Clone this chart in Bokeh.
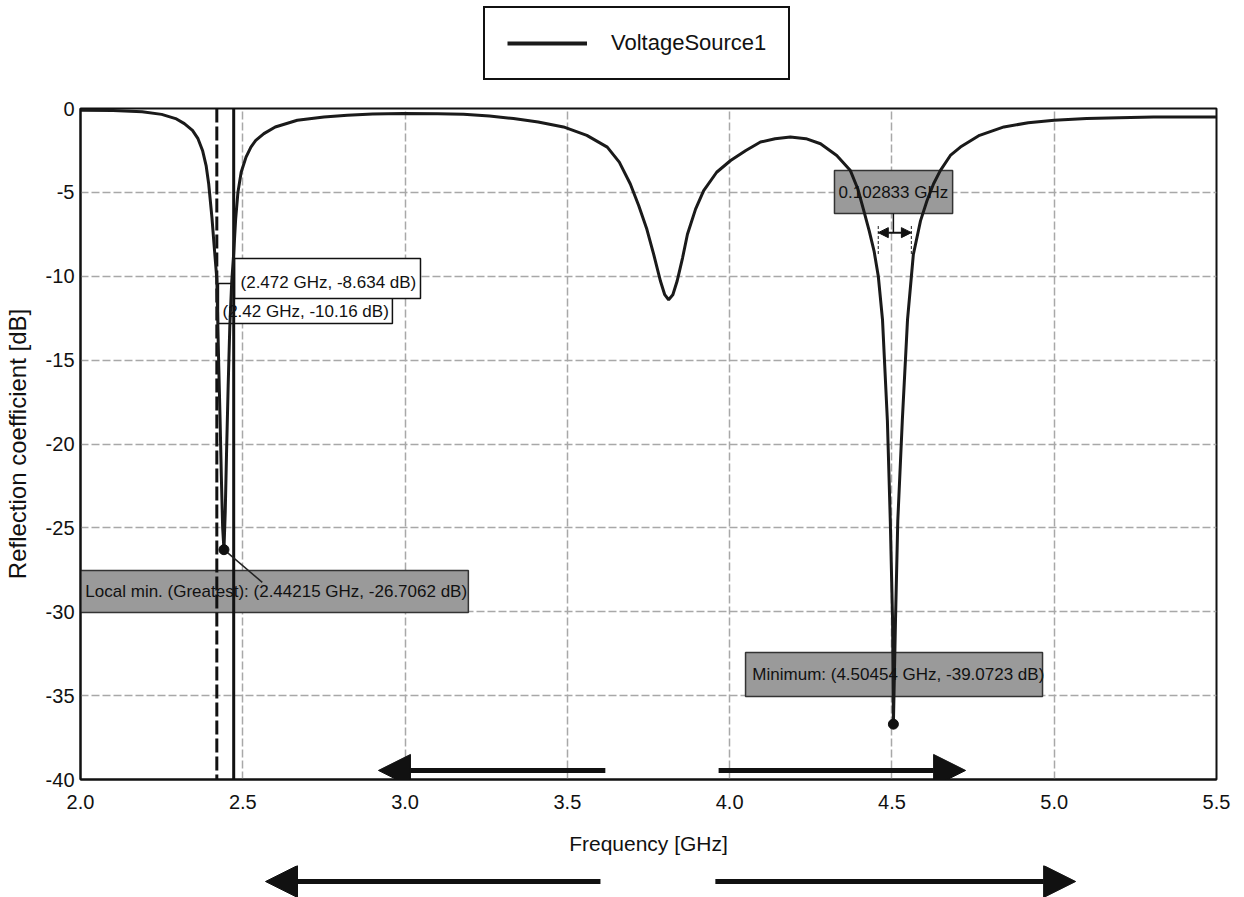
from bokeh.plotting import figure
from bokeh.layouts import column
from bokeh.models import (Arrow, NormalHead, Range1d, FixedTicker, ColumnDataSource,
                          Legend, LegendItem)
from bokeh.core.properties import value
from bokeh.embed import file_html
from bokeh.resources import INLINE

# ---------------- data ----------------
freq = [2.00, 2.10, 2.19, 2.25, 2.293, 2.32, 2.345, 2.362, 2.376, 2.387, 2.395, 2.405,
        2.411, 2.420, 2.426, 2.430, 2.434, 2.438, 2.442, 2.446, 2.450, 2.455, 2.460,
        2.466, 2.472, 2.478, 2.485, 2.495, 2.51, 2.525, 2.54, 2.565, 2.60, 2.668, 2.75,
        2.822, 2.90, 2.995, 3.10, 3.18, 3.26, 3.334, 3.41, 3.488, 3.56, 3.623, 3.66,
        3.694, 3.72, 3.745, 3.766, 3.787, 3.800, 3.812, 3.825, 3.838, 3.855, 3.87,
        3.895, 3.92, 3.96, 4.003, 4.05, 4.095, 4.14, 4.187, 4.235, 4.28, 4.33, 4.372,
        4.395, 4.412, 4.43, 4.445, 4.458, 4.471, 4.486, 4.495, 4.502, 4.5045, 4.511,
        4.518, 4.532, 4.548, 4.560, 4.566, 4.588, 4.608, 4.628, 4.649, 4.68, 4.711,
        4.77, 4.845, 4.92, 5.0, 5.1, 5.2, 5.306, 5.4, 5.5]
s11 = [-0.10, -0.12, -0.20, -0.35, -0.6, -0.9, -1.3, -1.8, -2.5, -3.4, -4.5, -6.5,
       -8.0, -10.16, -15.4, -18.5, -22.0, -25.0, -26.3, -24.0, -20.5, -16.5, -13.0,
       -10.3, -8.634, -6.6, -5.0, -3.8, -2.9, -2.3, -1.9, -1.5, -1.1, -0.7, -0.5,
       -0.4, -0.33, -0.3, -0.32, -0.35, -0.45, -0.6, -0.8, -1.1, -1.6, -2.3, -3.2,
       -4.5, -5.8, -7.2, -8.7, -10.3, -11.1, -11.4, -11.1, -10.3, -8.9, -7.5,
       -6.0, -4.9, -3.8, -3.1, -2.5, -2.0, -1.8, -1.7, -1.8, -2.1, -2.8, -3.7,
       -4.8, -6.0, -7.3, -8.5, -10.0, -12.6, -18.6, -24.6, -30.5, -36.7, -30.5,
       -24.6, -18.6, -12.6, -10.0, -8.7, -6.7, -5.5, -4.5, -3.7, -2.8, -2.3,
       -1.6, -1.1, -0.85, -0.7, -0.6, -0.55, -0.5, -0.5, -0.5]

series_name = "VoltageSource1"
x_ticks = [2.0, 2.5, 3.0, 3.5, 4.0, 4.5, 5.0, 5.5]
x_tick_labels = ["2.0", "2.5", "3.0", "3.5", "4.0", "4.5", "5.0", "5.5"]
y_ticks = [0, -5, -10, -15, -20, -25, -30, -35, -40]
y_tick_labels = ["0", "-5", "-10", "-15", "-20", "-25", "-30", "-35", "-40"]

marker_freqs = [2.42, 2.472]
marker_texts = ["(2.42 GHz, -10.16 dB)", "(2.472 GHz, -8.634 dB)"]
local_min = (2.442, -26.3)
local_min_text = "Local min. (Greatest): (2.44215 GHz, -26.7062 dB)"
global_min = (4.5045, -36.7)
global_min_text = "Minimum: (4.50454 GHz, -39.0723 dB)"
bw_edges = [4.458, 4.560]
bw_text = "0.102833 GHz"

FONT = "'Liberation Sans', Arial, sans-serif"
GRAY = "#9a9a9a"
INK = "#111111"

# ---------------- legend strip (top) ----------------
lf = figure(width=1244, height=96, x_range=Range1d(0, 1), y_range=Range1d(0, 1),
            output_backend="svg", toolbar_location=None,
            min_border_left=80, min_border_right=28, min_border_top=0, min_border_bottom=0)
lf.axis.visible = False
lf.grid.visible = False
lf.outline_line_color = None
# legend proxy: the same series, lying outside this strip's (hidden) ranges
proxy = lf.line(x=freq, y=s11, line_color="#1a1a1a", line_width=4)
lg = Legend(items=[LegendItem(label=series_name, renderers=[proxy])], location=(403, 16))
lg.border_line_color = INK
lg.border_line_alpha = 1.0
lg.border_line_width = 2
lg.padding = 22
lg.margin = 0
lg.glyph_width = 80
lg.glyph_height = 26
lg.label_height = 26
lg.label_standoff = 24
lg.label_text_font = FONT
lg.label_text_font_size = "22px"
lg.label_text_color = INK
lf.add_layout(lg)

# ---------------- main figure ----------------
p = figure(width=1244, height=769, x_range=Range1d(2.0, 5.5), y_range=Range1d(-40, 0),
           output_backend="svg", toolbar_location=None,
           min_border_left=80, min_border_right=28, min_border_top=12, min_border_bottom=86)
p.background_fill_color = "white"
p.border_fill_color = "white"
p.outline_line_color = INK
p.outline_line_width = 2

p.xaxis.ticker = FixedTicker(ticks=x_ticks)
p.yaxis.ticker = FixedTicker(ticks=y_ticks)
p.xaxis.major_label_overrides = {t: l for t, l in zip(x_ticks, x_tick_labels)}
p.yaxis.major_label_overrides = {t: l for t, l in zip(y_ticks, y_tick_labels)}
for ax in (p.xaxis[0], p.yaxis[0]):
    ax.axis_line_color = INK
    ax.axis_line_width = 2
    ax.major_tick_line_color = None
    ax.minor_tick_line_color = None
    ax.major_tick_out = 0
    ax.major_tick_in = 0
    ax.minor_tick_out = 0
    ax.major_label_text_font = FONT
    ax.major_label_text_font_size = "20px"
    ax.major_label_text_color = INK
    ax.axis_label_text_font = FONT
    ax.axis_label_text_font_style = "normal"
    ax.axis_label_text_color = INK
p.xaxis.axis_label = "Frequency [GHz]"
p.xaxis.axis_label_text_font_size = "21px"
p.xaxis.major_label_standoff = 15
p.xaxis.axis_label_standoff = 20
p.yaxis.axis_label = "Reflection coefficient [dB]"
p.yaxis.axis_label_text_font_size = "24px"
p.yaxis.major_label_standoff = 6
p.yaxis.axis_label_standoff = 12

for g in (p.xgrid[0], p.ygrid[0]):
    g.grid_line_color = "#a8a8a8"
    g.grid_line_dash = "8 3"
    g.grid_line_width = 1.5
p.xgrid.ticker = FixedTicker(ticks=x_ticks)
p.ygrid.ticker = FixedTicker(ticks=y_ticks)

# annotation boxes (under the lines)
p.quad(left=[2.0], right=[3.195], top=[-27.54], bottom=[-30.05],
       fill_color=GRAY, line_color="#333333", line_width=1.5)
p.quad(left=[4.049], right=[4.964], top=[-32.43], bottom=[-35.05],
       fill_color=GRAY, line_color="#333333", line_width=1.5)
p.quad(left=[4.323], right=[4.687], top=[-3.70], bottom=[-6.26],
       fill_color=GRAY, line_color="#333333", line_width=1.5)
p.quad(left=[2.425], right=[2.961], top=[-10.43], bottom=[-12.82],
       fill_color="white", line_color=INK, line_width=1.5)
p.quad(left=[2.4745], right=[3.0475], top=[-8.94], bottom=[-11.33],
       fill_color="white", line_color=INK, line_width=1.5)

# marker lines
p.line([marker_freqs[0], marker_freqs[0]], [0, -40], line_color=INK,
       line_width=3, line_dash="14 4")
p.line([marker_freqs[1], marker_freqs[1]], [0, -40], line_color=INK, line_width=3)

# curve
src = ColumnDataSource(dict(f=freq, s=s11))
p.line("f", "s", source=src, line_color="#1a1a1a", line_width=3)

# leader line & dots
p.line([local_min[0], 2.56], [local_min[1], -28.25], line_color="#222222", line_width=1.5)
p.scatter([local_min[0], global_min[0]], [local_min[1], global_min[1]],
          size=10, color=INK)

# bandwidth indicator
p.line([global_min[0], global_min[0]], [-6.26, -7.4], line_color=INK, line_width=1.5)
for e in bw_edges:
    p.line([e, e], [-7.0, -8.8], line_color="#444444", line_width=1.2, line_dash="3 2")
p.add_layout(Arrow(start=NormalHead(size=10, fill_color=INK, line_color=INK),
                   end=NormalHead(size=10, fill_color=INK, line_color=INK),
                   x_start=bw_edges[0], x_end=bw_edges[1], y_start=-7.4, y_end=-7.4,
                   line_width=2, line_color=INK))

# texts
txt = dict(text_font=value(FONT), text_font_size="17px", text_baseline="middle",
           text_color=INK)
p.text(x=[2.015], y=[-28.79], text=[local_min_text], text_align="left", **txt)
p.text(x=[4.070], y=[-33.74], text=[global_min_text], text_align="left", **txt)
p.text(x=[4.5046], y=[-5.0], text=[bw_text], text_align="center", **txt)
p.text(x=[2.4375], y=[-12.1], text=[marker_texts[0]], text_align="left", **txt)
p.text(x=[2.493], y=[-10.4], text=[marker_texts[1]], text_align="left", **txt)

# arrows inside the plot area
for xs, xe in [(3.617, 2.918), (3.966, 4.727)]:
    p.add_layout(Arrow(end=NormalHead(size=32, fill_color=INK, line_color=INK),
                       x_start=xs, x_end=xe, y_start=-39.46, y_end=-39.46,
                       line_width=5, line_color=INK))

# ---------------- bottom arrow strip ----------------
bf = figure(width=1244, height=32, x_range=p.x_range, y_range=Range1d(-1, 1),
            output_backend="svg", toolbar_location=None,
            min_border_left=80, min_border_right=28, min_border_top=0, min_border_bottom=0)
bf.axis.visible = False
bf.grid.visible = False
bf.outline_line_color = None
for xs, xe in [(3.602, 2.570), (3.956, 5.066)]:
    bf.add_layout(Arrow(end=NormalHead(size=32, fill_color=INK, line_color=INK),
                        x_start=xs, x_end=xe, y_start=0, y_end=0,
                        line_width=5, line_color=INK))

layout = column(lf, p, bf, spacing=0)
open("out.html", "w").write(file_html(layout, INLINE))
